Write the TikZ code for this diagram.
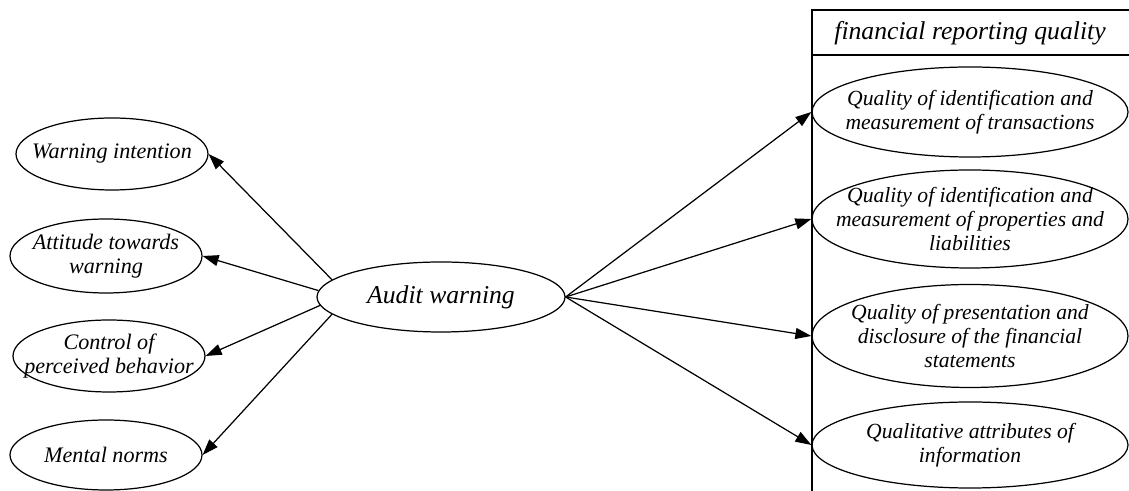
\documentclass[tikz,border=0pt]{standalone}
\usepackage{fontspec}
\setmainfont{Liberation Serif}
\usetikzlibrary{arrows.meta, shapes.geometric}

\begin{document}
\begin{tikzpicture}

  % Define styles
  \tikzstyle{factor} = [ellipse, draw, line width=0.7pt, inner sep=0pt]
  \tikzstyle{side} = [factor, minimum width=3.84cm, minimum height=1.44cm]
  \tikzstyle{quality} = [factor, minimum width=6.32cm]
  \tikzstyle{caption} = [align=center, font=\fontsize{14.6}{15}\selectfont\itshape]
  \tikzstyle{side_txt} = [align=center, font=\fontsize{12.6}{13.6}\selectfont\itshape]
  \tikzstyle{quality_txt} = [align=center, font=\fontsize{12.3}{13.8}\selectfont\itshape]
  \tikzstyle{link} = [draw, line width=0.7pt, -{Triangle[length=0.32cm, width=0.22cm]}]

  \useasboundingbox (0,0) rectangle (22.58,9.82);

  % Audit warning
  \node[factor, minimum width=4.96cm, minimum height=1.40cm] (audit) at (8.82, 3.88) {};
  \node[caption] (audit_txt) at (audit) {Audit warning};

  % Left side
  \node[side] (warn) at (2.24, 6.74) {};
  \node[side_txt] (warn_txt) at (warn) {Warning intention};
  \node[side, minimum height=1.48cm] (attitude) at (2.12, 4.70) {};
  \node[side_txt] (attitude_txt) at (attitude) {Attitude towards\\ warning};
  \node[side] (control) at (2.18, 2.70) {};
  \node[side_txt] (control_txt) at (control) {Control of\\ perceived behavior};
  \node[side, minimum height=1.40cm] (mental) at (2.12, 0.72) {};
  \node[side_txt] (mental_txt) at (mental) {Mental norms};

  % Left connections
  \draw[link] (audit.171) -- (warn.east);
  \draw[link] (audit.177) -- (attitude.east);
  \draw[link] (audit.184) -- (control.east);
  \draw[link] (audit.189) -- (mental.east);

  % Financial reporting quality box
  \draw[line width=0.7pt] (16.24, 0) -- (16.24, 9.62) -- (22.58, 9.62);
  \draw[line width=0.7pt] (16.24, 8.72) -- (22.58, 8.72);
  \node[caption] (frq) at (19.40, 9.16) {financial reporting quality};

  % Right side
  \node[quality, minimum height=1.80cm] (q1) at (19.40, 7.58) {};
  \node[quality_txt] (q1_txt) at (q1) {Quality of identification and\\ measurement of transactions};
  \node[quality, minimum height=1.96cm] (q2) at (19.40, 5.44) {};
  \node[quality_txt] (q2_txt) at (q2) {Quality of identification and\\ measurement of properties and\\ liabilities};
  \node[quality, minimum height=2.06cm] (q3) at (19.40, 3.10) {};
  \node[quality_txt] (q3_txt) at (q3) {Quality of presentation and\\ disclosure of the financial\\ statements};
  \node[quality, minimum height=1.72cm] (q4) at (19.40, 0.92) {};
  \node[quality_txt] (q4_txt) at (q4) {Qualitative attributes of\\ information};

  % Right connections
  \draw[link] (audit.east) -- (q1.west);
  \draw[link] (audit.east) -- (q2.west);
  \draw[link] (audit.east) -- (q3.west);
  \draw[link] (audit.east) -- (q4.west);

\end{tikzpicture}
\end{document}
